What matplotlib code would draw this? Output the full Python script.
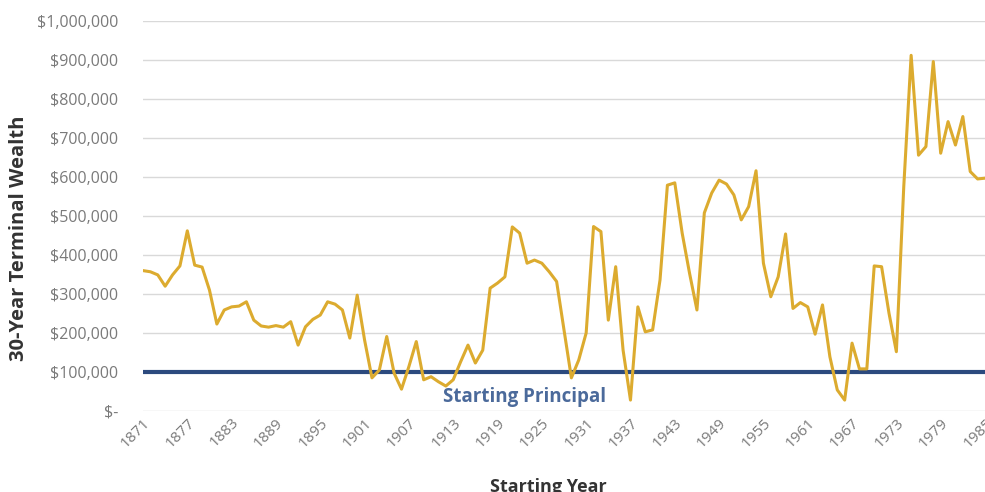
import matplotlib
matplotlib.use("Agg")
import matplotlib.pyplot as plt
from matplotlib.ticker import FuncFormatter, MultipleLocator

plt.rcParams['font.family'] = ['Open Sans', 'DejaVu Sans']

# starting years 1871..1985, one 30-year window each
years = list(range(1871, 1986))

terminal_wealth = [
    360000, 357000, 349000, 320000, 349000, 372000, 462000, 374000, 369000, 310000,  # 1871-1880
    223000, 259000, 267000, 269000, 280000, 233000, 218000, 215000, 219000, 215000,  # 1881-1890
    229000, 169000, 216000, 235000, 246000, 280000, 274000, 259000, 187000, 297000,  # 1891-1900
    182000, 85000, 105000, 191000, 97000, 56000, 114000, 178000, 80000, 88000,       # 1901-1910
    75000, 64000, 80000, 126000, 169000, 123000, 156000, 315000, 328000, 344000,     # 1911-1920
    472000, 456000, 379000, 387000, 379000, 357000, 332000, 208000, 85000, 131000,   # 1921-1930
    200000, 473000, 460000, 233000, 370000, 156000, 28000, 267000, 203000, 208000,   # 1931-1940
    336000, 579000, 585000, 456000, 353000, 259000, 508000, 559000, 592000, 582000,  # 1941-1950
    554000, 490000, 524000, 616000, 379000, 293000, 344000, 454000, 263000, 278000,  # 1951-1960
    267000, 197000, 272000, 139000, 54000, 28000, 174000, 108000, 108000, 372000,    # 1961-1970
    370000, 251000, 152000, 575000, 912000, 656000, 678000, 896000, 661000, 742000,  # 1971-1980
    682000, 755000, 614000, 595000, 597000,                                          # 1981-1985
]

starting_principal = [100000] * len(years)
tick_years = list(range(1871, 1986, 6))

gold = '#dcab2f'
navy = '#2c4a7e'
tick_grey = '#7a7a7a'

fig = plt.figure(figsize=(9.85, 4.92), dpi=100)
ax = fig.add_axes([143 / 985, 1 - 411 / 492, 842 / 985, 390 / 492])

ax.plot(years, starting_principal, color=navy, linewidth=3.0, solid_capstyle='butt', zorder=2)
ax.plot(years, terminal_wealth, color=gold, linewidth=2.2, zorder=3)

ax.set_xlim(1871, 1985)
ax.set_ylim(0, 1000000)
ax.yaxis.set_major_locator(MultipleLocator(100000))
ax.yaxis.set_major_formatter(FuncFormatter(lambda v, p: '$-' if v == 0 else '${:,.0f}'.format(v)))
ax.set_xticks(tick_years)
ax.set_xticklabels([str(y) for y in tick_years], rotation=45, ha='right', va='top',
                   rotation_mode='anchor')

ax.grid(axis='y', color='#d9d9d9', linewidth=1.0)
ax.set_axisbelow(True)
for s in ax.spines.values():
    s.set_visible(False)
ax.tick_params(axis='both', length=0, colors=tick_grey)
ax.tick_params(axis='y', labelsize=11.5, pad=18)
ax.tick_params(axis='x', labelsize=11, pad=3)

ax.text(0.4537, 0.036, 'Starting Principal', transform=ax.transAxes, ha='center', va='center',
        fontsize=13.5, fontweight='bold', color='#4b6a9b')

fig.text(19 / 985, 1 - 238 / 492, '30-Year Terminal Wealth', rotation=90, ha='center', va='center',
         fontsize=14.5, fontweight='bold', color='#333333')
fig.text(548 / 985, 1 - 487 / 492, 'Starting Year', ha='center', va='center',
         fontsize=13, fontweight='bold', color='#333333')

fig.savefig('out.png', dpi=100)
